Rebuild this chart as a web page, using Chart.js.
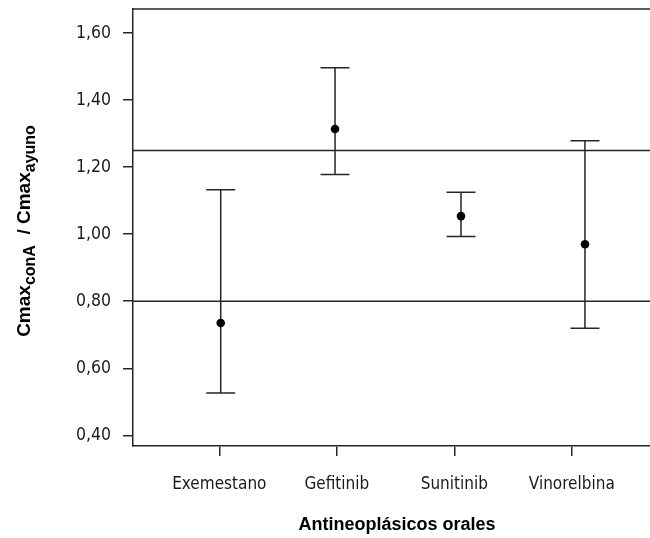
<!DOCTYPE html>
<html>
<head>
<meta charset="utf-8">
<script src="https://cdn.jsdelivr.net/npm/chart.js@4.4.1/dist/chart.umd.min.js"></script>
<style>
  html, body { margin: 0; padding: 0; background: #fff; }
  canvas { display: block; }
</style>
</head>
<body>
<canvas id="grafico" width="650" height="538"></canvas>
<script>
// datos
const farmacos = ["Exemestano", "Gefitinib", "Sunitinib", "Vinorelbina"];
const posicionX = [1.012, 1.985, 3.057, 4.112]; // posicion de cada farmaco en el eje x
const cociente = [0.735, 1.314, 1.054, 0.970];
const limiteInf = [0.526, 1.178, 0.993, 0.719];
const limiteSup = [1.133, 1.497, 1.125, 1.279];
const lineasRef = [0.80, 1.25];
const ticksY = [0.40, 0.60, 0.80, 1.00, 1.20, 1.40, 1.60];
const ticksX = [1, 2, 3, 4];

const colorLinea = "#262626";
const fuenteTicks = "'DejaVu Sans Condensed', 'DejaVu Sans', sans-serif";
const fuenteTitulo = "'Liberation Sans', Arial, sans-serif";

// lineas de referencia, borde superior y barras de error
const pluginExtras = {
  id: "extras",
  beforeDatasetsDraw(chart) {
    const ctx = chart.ctx;
    const area = chart.chartArea;
    const x = chart.scales.x;
    const y = chart.scales.y;
    ctx.save();
    ctx.strokeStyle = colorLinea;
    ctx.lineWidth = 1.5;

    // borde superior
    ctx.beginPath();
    ctx.moveTo(area.left, area.top);
    ctx.lineTo(area.right, area.top);
    ctx.stroke();

    lineasRef.forEach(function (v) {
      const py = y.getPixelForValue(v);
      ctx.beginPath();
      ctx.moveTo(area.left, py);
      ctx.lineTo(area.right, py);
      ctx.stroke();
    });

    for (let i = 0; i < farmacos.length; i++) {
      const px = x.getPixelForValue(posicionX[i]);
      const pLo = y.getPixelForValue(limiteInf[i]);
      const pHi = y.getPixelForValue(limiteSup[i]);
      ctx.beginPath();
      ctx.moveTo(px, pLo);
      ctx.lineTo(px, pHi);
      ctx.moveTo(px - 14.5, pLo);
      ctx.lineTo(px + 14.5, pLo);
      ctx.moveTo(px - 14.5, pHi);
      ctx.lineTo(px + 14.5, pHi);
      ctx.stroke();
    }
    ctx.restore();
  },
  afterDraw(chart) {
    const ctx = chart.ctx;
    const area = chart.chartArea;
    ctx.save();
    ctx.fillStyle = "#000";

    // titulo eje x
    ctx.font = "bold 18px " + fuenteTitulo;
    ctx.textAlign = "center";
    ctx.textBaseline = "alphabetic";
    ctx.fillText("Antineoplásicos orales", 397, 530);

    // titulo eje y con subindices
    const partes = [
      ["Cmax", false],
      ["conA", true],
      ["  / Cmax", false],
      ["ayuno", true],
    ];
    const fMain = "bold 19px " + fuenteTitulo;
    const fSub = "bold 16px " + fuenteTitulo;
    let total = 0;
    partes.forEach(function (p) {
      ctx.font = p[1] ? fSub : fMain;
      total += ctx.measureText(p[0]).width;
    });
    ctx.translate(30, 231);
    ctx.rotate(-Math.PI / 2);
    ctx.textAlign = "left";
    let cx = -total / 2;
    partes.forEach(function (p) {
      ctx.font = p[1] ? fSub : fMain;
      ctx.fillText(p[0], cx, p[1] ? 5 : 0);
      cx += ctx.measureText(p[0]).width;
    });
    ctx.restore();
  },
};

const puntos = posicionX.map(function (xv, i) {
  return { x: xv, y: cociente[i] };
});

const config = {
  type: "scatter",
  data: {
    datasets: [
      {
        label: "Cmax",
        data: puntos,
        backgroundColor: "#000",
        borderColor: "#000",
        pointRadius: 4.3,
        borderWidth: 0,
      },
    ],
  },
  options: {
    responsive: false,
    animation: false,
    layout: { autoPadding: false, padding: { top: 9, left: 0, right: 0, bottom: 0 } },
    plugins: {
      legend: { display: false },
      tooltip: { enabled: false },
    },
    scales: {
      x: {
        type: "linear",
        min: 0.2655,
        max: 4.6655,
        afterBuildTicks: function (s) {
          s.ticks = ticksX.map(function (v) { return { value: v }; });
        },
        afterFit: function (s) {
          s.height = 92;
          s.paddingLeft = 0;
          s.paddingRight = 0;
        },
        ticks: {
          autoSkip: false,
          maxRotation: 0,
          padding: 18,
          color: "#1a1a1a",
          font: { family: fuenteTicks, size: 17 },
          callback: function (v, idx) {
            return farmacos[idx];
          },
        },
        grid: {
          drawOnChartArea: false,
          tickLength: 10,
          color: colorLinea,
          lineWidth: 1.5,
        },
        border: { color: colorLinea, width: 1.5 },
      },
      y: {
        min: 0.368,
        max: 1.672,
        afterBuildTicks: function (s) {
          s.ticks = ticksY.map(function (v) { return { value: v }; });
        },
        afterFit: function (s) {
          s.width = 133;
          s.paddingTop = 0;
          s.paddingBottom = 0;
        },
        ticks: {
          padding: 12,
          color: "#1a1a1a",
          font: { family: fuenteTicks, size: 17.5 },
          callback: function (v) {
            return v.toFixed(2).replace(".", ",");
          },
        },
        grid: {
          drawOnChartArea: false,
          tickLength: 10,
          color: colorLinea,
          lineWidth: 1.5,
        },
        border: { color: colorLinea, width: 1.5 },
      },
    },
  },
  plugins: [pluginExtras],
};

let grafico = new Chart(document.getElementById("grafico"), config);
</script>
</body>
</html>
